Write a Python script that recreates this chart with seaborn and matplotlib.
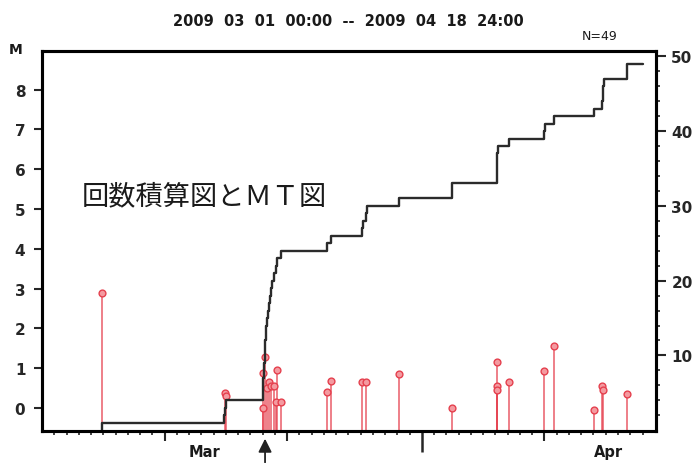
import numpy as np
import pandas as pd
import seaborn as sns
import matplotlib.pyplot as plt

# event times in days since 2009-03-01 00:00, magnitude (nan = not plotted)
event_day = [4.87, 14.86, 14.96, 15.02,
             18.02, 18.04, 18.07, 18.11, 18.14, 18.16, 18.19, 18.22, 18.25, 18.29,
             18.34, 18.40, 18.55, 18.60, 18.72, 18.76, 18.89, 19.10, 19.21, 19.48,
             23.27, 23.59, 26.12, 26.20, 26.47, 26.52, 29.14, 33.44, 33.47,
             37.10, 37.12, 37.14, 37.16, 37.18, 38.12, 40.98, 41.02, 41.80,
             45.06, 45.70, 45.74, 45.80, 45.84, 47.72, 47.76]
event_mag = [2.9, np.nan, 0.38, 0.30,
             0.0, 0.88, np.nan, np.nan, np.nan, np.nan, np.nan, 1.28, np.nan, np.nan,
             0.50, np.nan, 0.65, np.nan, 0.54, np.nan, 0.56, 0.16, 0.95, 0.16,
             0.40, 0.67, 0.65, np.nan, 0.65, np.nan, 0.86, 0.0, np.nan,
             1.15, 0.55, 0.46, np.nan, np.nan, 0.65, 0.94, np.nan, 1.55,
             -0.05, 0.56, 0.45, np.nan, np.nan, 0.35, np.nan]
period_end = 49.0
month_labels = ['Mar', 'Apr']
month_label_day = [13.3, 46.2]
month_start_day = [31]
mid_tick_day = [10, 20, 41]
title = '2009  03  01  00:00  --  2009  04  18  24:00'
japanese_label = '回数積算図とＭＴ図'
arrow_day = 18.2

events = pd.DataFrame({'day': event_day, 'mag': event_mag})
cum = pd.DataFrame({'day': [event_day[0]] + event_day + [period_end],
                    'count': [0] + list(range(1, len(event_day) + 1)) + [len(event_day)]})
stems = events.dropna()

sns.set_theme(style='white')
plt.rcParams['font.family'] = ['DejaVu Sans', 'Noto Sans CJK JP']

fig, ax = plt.subplots(figsize=(6.92, 4.64), dpi=100)
fig.subplots_adjust(left=42/692, right=656/692, top=1-52/464, bottom=1-432/464)
ax2 = ax.twinx()

mag_bottom = -0.58
ax.set_xlim(0, 50.1)
ax.set_ylim(mag_bottom, 8.97)
ax2.set_ylim(-0.1, 50.7)

red = '#e5404e'
ax.vlines(stems['day'], mag_bottom, stems['mag'], color=red, lw=1.1, alpha=0.85, zorder=2)
sns.scatterplot(data=stems, x='day', y='mag', ax=ax, s=24, marker='o',
                facecolor='#f49aa0', edgecolor=red, linewidth=1.0, zorder=3)

sns.lineplot(data=cum, x='day', y='count', ax=ax2, drawstyle='steps-post',
             estimator=None, sort=False, color='#2b2b2b', lw=1.7)

# left axis
ax.set_yticks(range(9))
ax.tick_params(axis='y', direction='out', length=6, width=1.5, labelsize=11, left=True, pad=6)
for lab in ax.get_yticklabels():
    lab.set_fontweight('bold')
ax.set_xlabel('')
ax.set_ylabel('')

# bottom axis: daily minor ticks, month start long tick
ax.set_xticks(month_start_day)
ax.set_xticklabels([])
ax.set_xticks(range(1, int(period_end) + 1), minor=True)
ax.tick_params(axis='x', which='major', direction='out', length=15, width=1.8, bottom=True)
ax.tick_params(axis='x', which='minor', direction='out', length=3, width=1.2, bottom=True)
sec = ax.secondary_xaxis('bottom')
sec.set_xticks(mid_tick_day)
sec.set_xticklabels([])
sec.tick_params(direction='out', length=7, width=1.5)
sec.spines['bottom'].set_visible(False)
for day, lab in zip(month_label_day, month_labels):
    ax.text(day, -0.055, lab, transform=ax.get_xaxis_transform(), ha='center', va='center',
            fontsize=10.5, fontweight='bold', color='#1a1a1a')

# right axis
ax2.set_yticks([10, 20, 30, 40, 50])
ax2.set_yticks(range(2, 51, 2), minor=True)
ax2.tick_params(axis='y', which='major', direction='out', length=7, width=1.5, labelsize=11, right=True, pad=4)
ax2.tick_params(axis='y', which='minor', direction='out', length=3, width=1.2, right=True)
for lab in ax2.get_yticklabels():
    lab.set_fontweight('bold')
ax2.set_xlabel('')
ax2.set_ylabel('')

for a in (ax, ax2):
    for sp in a.spines.values():
        sp.set_color('black')
        sp.set_linewidth(2.2)

ax.text(0.065, 0.619, japanese_label, transform=ax.transAxes, ha='left', va='center',
        fontsize=19.6, family=['Noto Sans CJK JP', 'DejaVu Sans'], color='#1a1a1a')

ax.annotate('', xy=(arrow_day, -0.013), xycoords=('data', 'axes fraction'),
            xytext=(arrow_day, -0.09), textcoords=('data', 'axes fraction'),
            arrowprops=dict(arrowstyle='-|>', color='#222222', lw=1.3, mutation_scale=20),
            annotation_clip=False)

fig.text(348/692, 1-21/464, title, ha='center', va='center', fontsize=10.5, fontweight='bold', color='#1a1a1a')
fig.text(600/692, 1-37/464, 'N=49', ha='center', va='center', fontsize=9, color='#1a1a1a')
fig.text(16/692, 1-50/464, 'M', ha='center', va='center', fontsize=10, fontweight='bold', color='#1a1a1a')

fig.savefig('out.png', dpi=100)
